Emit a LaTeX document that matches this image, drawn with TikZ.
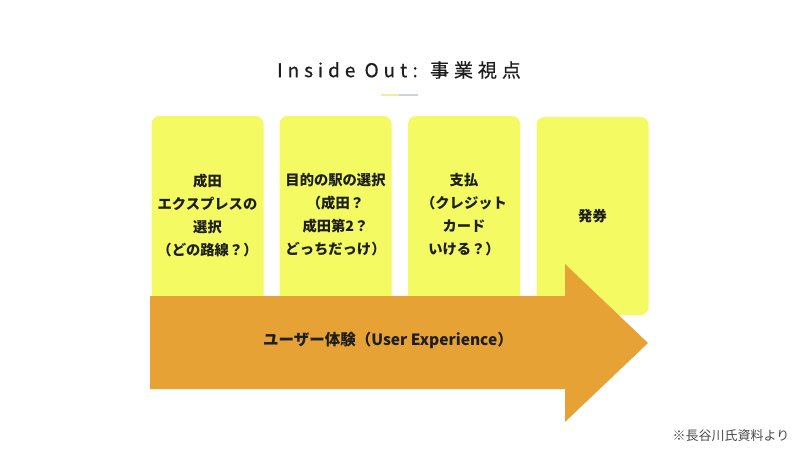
\documentclass[tikz,border=0pt]{standalone}
\usepackage{fontspec}
\newfontfamily\jp{Noto Sans CJK JP}
\newfontfamily\jptitle[FakeBold=0.6, LetterSpace=26]{Noto Sans CJK JP}
\definecolor{boxyellow}{HTML}{F3FA62}
\definecolor{arroworange}{HTML}{E6A234}
\definecolor{lineyellow}{HTML}{F3EC9C}
\definecolor{linegray}{HTML}{CDD3D8}
\definecolor{ink}{HTML}{1E1E1E}
\tikzset{
  stepbox/.style={rectangle, rounded corners=8pt, fill=boxyellow, minimum width=112pt, minimum height=198pt, inner sep=0pt, align=center, text=ink, font=\jp\bfseries\fontsize{14.3}{23}\selectfont},
  flow/.style={fill=arroworange, draw=none},
}
\begin{document}
\begin{tikzpicture}[x=1pt,y=-1pt]
\useasboundingbox[fill=white] (0,0) rectangle (800,450);
% title
\node[text=ink, font=\jptitle\fontsize{19}{22}\selectfont] (title) at (399,70) {Inside Out: 事業視点};
\coordinate (ul1) at (381,95);
\coordinate (ul2) at (399,95);
\coordinate (ul3) at (418,95);
\draw[lineyellow, line width=2pt] (ul1) -- (ul2);
\draw[linegray, line width=2pt] (ul2) -- (ul3);
% boxes
\node[stepbox] (b1) at (207.5,215) {成田\\エクスプレスの\\選択\\（どの路線？）};
\node[stepbox] (b2) at (335.5,215) {目的の駅の選択\\（成田？\\成田第2？\\どっちだっけ）};
\node[stepbox] (b3) at (464,215) {支払\\（クレジット\\カード\\いける？）};
\node[stepbox] (b4) at (592.5,216) {発券};
% arrow
\fill[flow] (150,296) -- (565,296) -- (565,264) -- (648,343) -- (565,422) -- (565,389) -- (150,389) -- cycle;
\node[text=ink, font=\jp\bfseries\fontsize{15.5}{18}\selectfont] (ux) at (388,340) {ユーザー体験（User Experience）};
% footnote
\node[text=black!70, font=\jp\fontsize{13}{15}\selectfont] (src) at (731,436) {※長谷川氏資料より};
\end{tikzpicture}
\end{document}
